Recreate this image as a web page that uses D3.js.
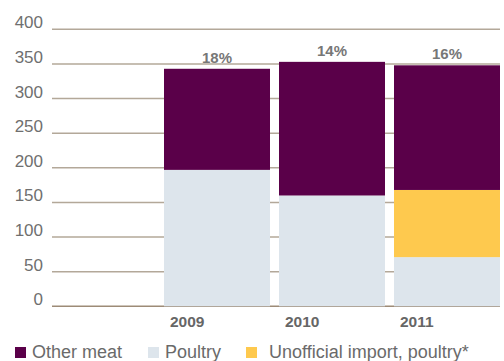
<!DOCTYPE html>
<html>
<head>
<meta charset="utf-8">
<script src="https://cdn.jsdelivr.net/npm/d3@7"></script>
<style>
  html, body { margin: 0; padding: 0; background: #fff; }
  svg { display: block; font-family: "Liberation Sans", Arial, Helvetica, sans-serif; }
</style>
</head>
<body>
<svg id="chart" width="504" height="361"></svg>
<script>
// Meat consumption by year, stacked by source
const years = ["2009", "2010", "2011"];
const poultry = [197, 160, 71];
const unofficialPoultry = [0, 0, 97];
const otherMeat = [146, 193, 180];
const shareLabels = ["18%", "14%", "16%"];
const yTicks = [0, 50, 100, 150, 200, 250, 300, 350, 400];
const seriesNames = ["Other meat", "Poultry", "Unofficial import, poultry*"];
const seriesKeys = ["other", "poultry", "unofficial"];

const colors = { other: "#5a0049", poultry: "#dde5ec", unofficial: "#fec94e" };

const rows = years.map((y, i) => ({
  year: y,
  poultry: poultry[i],
  unofficial: unofficialPoultry[i],
  other: otherMeat[i],
  label: shareLabels[i]
}));

const svg = d3.select("#chart");

const gridLeft = 52, gridRight = 500;
const y = d3.scaleLinear().domain([0, 400]).range([306.3, 29.3]);
const x = d3.scaleBand().domain(years).range([164, 500]).paddingInner(9 / 115).paddingOuter(0);

// Horizontal gridlines with value labels on the left
const grid = svg.append("g");
grid.selectAll("line").data(yTicks).join("line")
  .attr("x1", gridLeft).attr("x2", gridRight)
  .attr("y1", d => y(d)).attr("y2", d => y(d))
  .attr("stroke", d => d === 0 ? "#9d8b77" : "#b3a899")
  .attr("stroke-width", 1.4);
grid.selectAll("text").data(yTicks).join("text")
  .attr("x", 43).attr("y", d => y(d) - 1)
  .attr("text-anchor", "end")
  .attr("font-size", 17)
  .attr("fill", "#6f6f6f")
  .text(d => d);

// Stacked bars: poultry at the base, unofficial imports, then other meat
const stack = d3.stack().keys(["poultry", "unofficial", "other"]);
const layers = stack(rows);
svg.append("g").selectAll("g").data(layers).join("g")
  .attr("fill", d => colors[d.key])
  .selectAll("rect").data(d => d).join("rect")
  .attr("x", d => x(d.data.year))
  .attr("width", x.bandwidth())
  .attr("y", d => y(d[1]))
  .attr("height", d => Math.max(0, y(d[0]) - y(d[1])));

// Share labels above each bar
const totals = rows.map(r => r.poultry + r.unofficial + r.other);
svg.append("g").selectAll("text").data(rows).join("text")
  .attr("x", d => x(d.year) + x.bandwidth() / 2)
  .attr("y", (d, i) => y(totals[i]) - 6)
  .attr("text-anchor", "middle")
  .attr("font-size", 15)
  .attr("font-weight", "bold")
  .attr("fill", "#777")
  .text(d => d.label);

// Year labels under the bars
svg.append("g").selectAll("text").data(years).join("text")
  .attr("x", d => x(d) + 6)
  .attr("y", 326.7)
  .attr("font-size", 15.5)
  .attr("font-weight", "bold")
  .attr("fill", "#666")
  .text(d => d);

// Legend
const legendX = [15, 148, 246];
const legendTextGap = [17, 17, 23];
const legend = svg.append("g");
seriesKeys.forEach((k, i) => {
  legend.append("rect")
    .attr("x", legendX[i]).attr("y", 347)
    .attr("width", 11).attr("height", 11)
    .attr("fill", colors[k]);
  legend.append("text")
    .attr("x", legendX[i] + legendTextGap[i]).attr("y", 358)
    .attr("font-size", 18)
    .attr("fill", "#6a6a6a")
    .text(seriesNames[i]);
});
</script>
</body>
</html>
